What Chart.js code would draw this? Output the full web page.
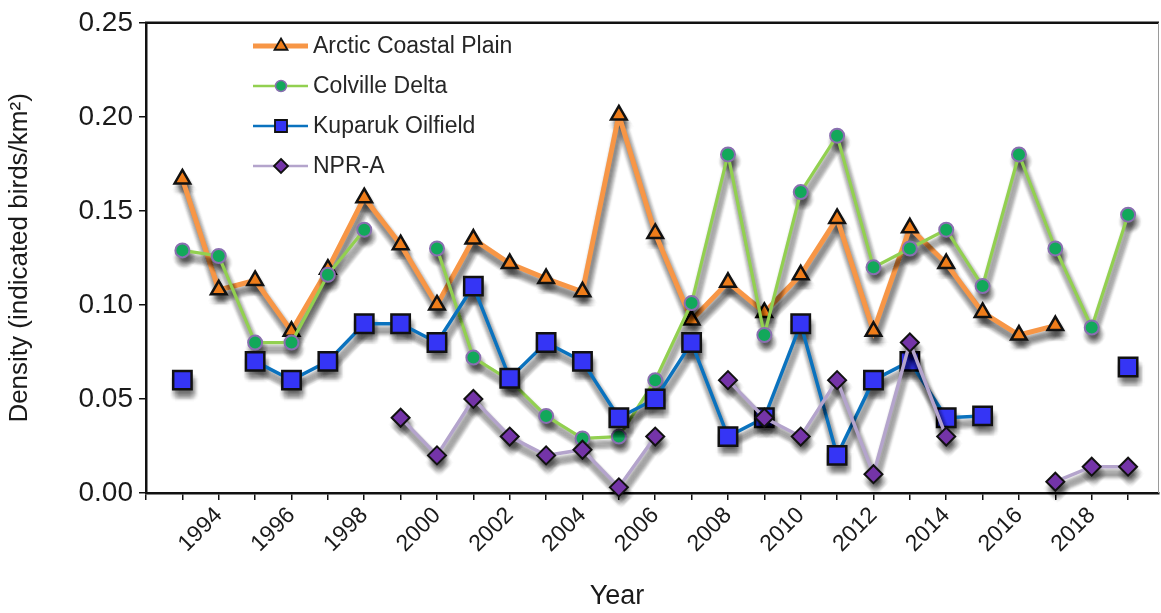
<!DOCTYPE html>
<html>
<head>
<meta charset="utf-8">
<script src="https://cdn.jsdelivr.net/npm/chart.js@4/dist/chart.umd.min.js"></script>
<style>
  html, body { margin: 0; padding: 0; background: #ffffff; overflow: hidden; }
  #wrap { width: 1161px; height: 613px; position: relative; }
</style>
</head>
<body>
<div id="wrap"><canvas id="chart" width="1161" height="613"></canvas></div>
<script>
// Survey years
const years = [1993, 1994, 1995, 1996, 1997, 1998, 1999, 2000, 2001, 2002, 2003, 2004, 2005,
               2006, 2007, 2008, 2009, 2010, 2011, 2012, 2013, 2014, 2015, 2016, 2017, 2018, 2019];

// Density (indicated birds/km²) per survey area; null = not surveyed
const arcticCoastalPlain = [0.167, 0.108, 0.113, 0.086, 0.119, 0.157, 0.132, 0.100, 0.135, 0.122, 0.114, 0.107, 0.201,
                            0.138, 0.092, 0.112, 0.096, 0.116, 0.146, 0.086, 0.141, 0.122, 0.096, 0.084, 0.089, null, null];
const colvilleDelta      = [0.129, 0.126, 0.080, 0.080, 0.116, 0.140, null, 0.130, 0.072, 0.060, 0.041, 0.029, 0.030,
                            0.060, 0.101, 0.180, 0.084, 0.160, 0.190, 0.120, 0.130, 0.140, 0.110, 0.180, 0.130, 0.088, 0.148];
const kuparukOilfield    = [0.060, null, 0.070, 0.060, 0.070, 0.090, 0.090, 0.080, 0.110, 0.061, 0.080, 0.070, 0.040,
                            0.050, 0.080, 0.030, 0.040, 0.090, 0.020, 0.060, 0.070, 0.040, 0.041, null, null, null, 0.067];
const nprA               = [null, null, null, null, null, null, 0.040, 0.020, 0.050, 0.030, 0.020, 0.023, 0.003,
                            0.030, null, 0.060, 0.040, 0.030, 0.060, 0.010, 0.080, 0.030, null, null, 0.006, 0.014, 0.014];

// Axis tick values
const yTicks = [0.00, 0.05, 0.10, 0.15, 0.20, 0.25];
const yearLabels = [1994, 1996, 1998, 2000, 2002, 2004, 2006, 2008, 2010, 2012, 2014, 2016, 2018];

const seriesNames = ['Arctic Coastal Plain', 'Colville Delta', 'Kuparuk Oilfield', 'NPR-A'];

const toPoints = vals => years.map((yr, i) => ({ x: yr, y: vals[i] }));

const styles = [
  { line: '#f79646', width: 5,   fill: '#ef7d1a', border: '#111111', bw: 2.5, shape: 'triangle', r: 9,   order: 4 },
  { line: '#92d050', width: 3.2, fill: '#12a85a', border: '#8a6fb0', bw: 2,   shape: 'circle',   r: 7,   order: 3 },
  { line: '#0a72be', width: 3.5, fill: '#3535f5', border: '#111111', bw: 2.5, shape: 'rect',     r: 13,  order: 2 },
  { line: '#b4a4cc', width: 3.5, fill: '#7434a8', border: '#111111', bw: 2,   shape: 'rectRot',  r: 9,   order: 1 }
];
const seriesValues = [arcticCoastalPlain, colvilleDelta, kuparukOilfield, nprA];

const datasets = seriesNames.map((name, i) => ({
  label: name,
  data: toPoints(seriesValues[i]),
  borderColor: styles[i].line,
  borderWidth: styles[i].width,
  backgroundColor: styles[i].fill,
  pointBackgroundColor: styles[i].fill,
  pointBorderColor: styles[i].border,
  pointBorderWidth: styles[i].bw,
  pointStyle: styles[i].shape,
  pointRadius: styles[i].r,
  pointHoverRadius: styles[i].r,
  tension: 0,
  spanGaps: false,
  order: styles[i].order,
  clip: false
}));

const textFont = "'Liberation Sans', Arial, sans-serif";

function markerPath(c, shape, x, y, r) {
  c.beginPath();
  if (shape === 'circle') {
    c.arc(x, y, r, 0, Math.PI * 2);
  } else if (shape === 'triangle') {
    c.moveTo(x, y - r);
    c.lineTo(x + r * 0.866, y + r * 0.5);
    c.lineTo(x - r * 0.866, y + r * 0.5);
    c.closePath();
  } else if (shape === 'rect') {
    const s = r * Math.SQRT1_2;
    c.rect(x - s, y - s, 2 * s, 2 * s);
  } else {
    c.moveTo(x, y - r); c.lineTo(x + r, y); c.lineTo(x, y + r); c.lineTo(x - r, y); c.closePath();
  }
}

// Soft drop shadow: the series shape is stamped many times with small
// offsets and low alpha, which gives a blurred grey copy below each series.
const jitter = [];
for (let dx = -5; dx <= 5; dx += 1.25) {
  for (let dy = -5; dy <= 5; dy += 1.25) {
    if (dx * dx + dy * dy <= 25.5) jitter.push([dx, dy]);
  }
}

function paintShadow(chart, meta) {
  const c = chart.ctx;
  const ds = chart.data.datasets[meta.index];
  const pts = meta.data;
  c.save();
  c.lineJoin = 'round';
  c.lineCap = 'round';
  c.strokeStyle = 'rgba(0,0,0,0.02)';
  c.fillStyle = 'rgba(0,0,0,0.018)';
  c.lineWidth = ds.borderWidth + 1;
  jitter.forEach(([jx, jy]) => {
    const ox = 2 + jx, oy = 7 + jy;
    c.beginPath();
    let pen = false;
    for (let k = 0; k < pts.length; k++) {
      const p = pts[k];
      if (p.skip) { pen = false; continue; }
      if (!pen) { c.moveTo(p.x + ox, p.y + oy); pen = true; } else { c.lineTo(p.x + ox, p.y + oy); }
    }
    c.stroke();
    pts.forEach(p => {
      if (p.skip) return;
      markerPath(c, ds.pointStyle, p.x + ox, p.y + oy, ds.pointRadius + 0.5);
      c.fill();
    });
  });
  c.restore();
}

const shadowPlugin = {
  id: 'markShadow',
  beforeDatasetDraw(chart, args) {
    paintShadow(chart, args.meta);
  }
};

// Frame on top/right, legend box in the plot and the x-axis title
const decorPlugin = {
  id: 'decor',
  afterDraw(chart) {
    const c = chart.ctx;
    const a = chart.chartArea;
    c.save();
    c.strokeStyle = '#111111';
    c.lineWidth = 2.5;
    c.beginPath();
    c.moveTo(a.left - 1, a.top); c.lineTo(a.right, a.top);
    c.stroke();
    c.strokeStyle = '#9a9a9a';
    c.lineWidth = 1;
    c.beginPath();
    c.moveTo(a.right - 0.5, a.top); c.lineTo(a.right - 0.5, a.bottom);
    c.stroke();

    // legend
    const rows = [46, 86, 126, 166];
    const legR = [7.5, 5.5, 8.5, 7];
    rows.forEach((yy, i) => {
      const s = styles[i];
      c.strokeStyle = s.line;
      c.lineWidth = i === 0 ? 5 : 2.5;
      c.beginPath(); c.moveTo(253, yy); c.lineTo(308, yy); c.stroke();
      c.fillStyle = s.fill;
      c.strokeStyle = s.border;
      c.lineWidth = i === 1 ? 1.5 : 1.8;
      markerPath(c, s.shape, 281, yy, legR[i]);
      c.fill();
      c.stroke();
      c.fillStyle = '#262626';
      c.font = '23px ' + textFont;
      c.textAlign = 'left';
      c.textBaseline = 'middle';
      c.fillText(seriesNames[i], 313, yy + 1);
    });

    c.fillStyle = '#1a1a1a';
    c.font = '27px ' + textFont;
    c.textAlign = 'center';
    c.textBaseline = 'middle';
    c.fillText('Year', 617, 597);
    c.restore();
  }
};

new Chart(document.getElementById('chart'), {
  type: 'line',
  data: { datasets },
  plugins: [shadowPlugin, decorPlugin],
  options: {
    responsive: false,
    animation: false,
    events: [],
    layout: { autoPadding: false, padding: { top: 17, right: 2, left: 0, bottom: 0 } },
    plugins: { legend: { display: false }, tooltip: { enabled: false } },
    scales: {
      x: {
        type: 'linear',
        min: 1992,
        max: 2019.85,
        afterFit(scale) { scale.height = 120; scale.paddingLeft = 0; scale.paddingRight = 0; },
        afterBuildTicks(scale) {
          const t = [];
          for (let yr = 1992; yr <= 2019; yr++) t.push({ value: yr });
          scale.ticks = t;
        },
        ticks: {
          autoSkip: false,
          includeBounds: false,
          minRotation: 45,
          maxRotation: 45,
          padding: 2,
          color: '#1a1a1a',
          font: { family: textFont, size: 23 },
          callback: v => (yearLabels.includes(v) ? String(v) : '')
        },
        grid: { drawOnChartArea: false, drawTicks: true, tickLength: 7, color: '#111111', lineWidth: 1.5 },
        border: { display: true, color: '#111111', width: 2.5 }
      },
      y: {
        min: 0,
        max: 0.25,
        afterFit(scale) { scale.width = 146; },
        afterBuildTicks(scale) { scale.ticks = yTicks.map(v => ({ value: v })); },
        ticks: {
          padding: 6,
          color: '#1a1a1a',
          font: { family: textFont, size: 28 },
          callback: v => Number(v).toFixed(2)
        },
        grid: { drawOnChartArea: false, drawTicks: true, tickLength: 7, color: '#111111', lineWidth: 1.5 },
        border: { display: true, color: '#111111', width: 2.5 },
        title: {
          display: true,
          text: 'Density (indicated birds/km²)',
          color: '#1a1a1a',
          font: { family: textFont, size: 26 },
          padding: { top: 4, bottom: 0 }
        }
      }
    }
  }
});
</script>
</body>
</html>
